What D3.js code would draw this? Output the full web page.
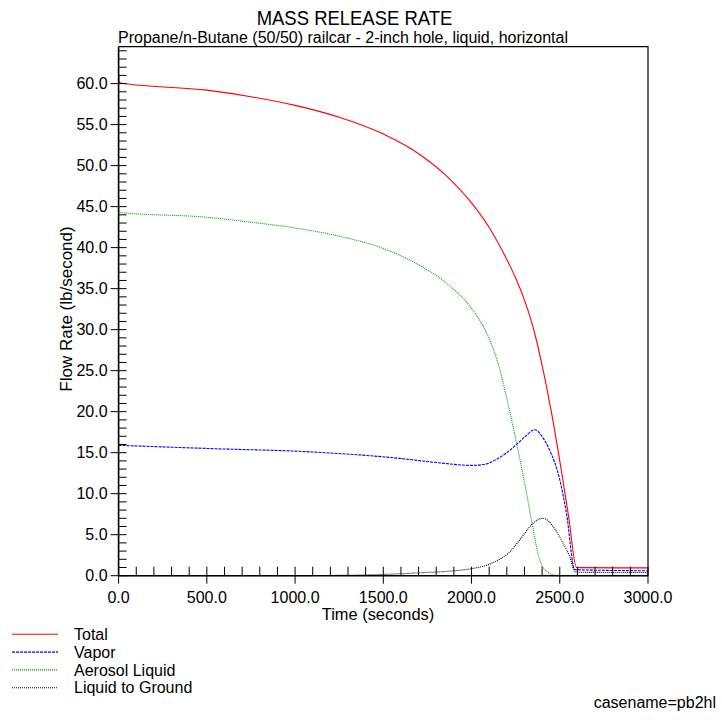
<!DOCTYPE html>
<html><head><meta charset="utf-8">
<script src="https://cdn.jsdelivr.net/npm/d3@7"></script>
<style>body{margin:0;background:#fff}text{font-family:"Liberation Sans",Arial,sans-serif;fill:#000}</style>
</head><body>
<svg id="c" width="722" height="720"></svg>
<script>
const title = "MASS RELEASE RATE";
const subtitle = "Propane/n-Butane (50/50) railcar - 2-inch hole, liquid, horizontal";
const xLabel = "Time (seconds)";
const yLabel = "Flow Rate (lb/second)";
const caseName = "casename=pb2hl";
const xTicks = [0, 500, 1000, 1500, 2000, 2500, 3000];
const yTicks = [0, 5, 10, 15, 20, 25, 30, 35, 40, 45, 50, 55, 60];

const seriesNames = ["Total", "Vapor", "Aerosol Liquid", "Liquid to Ground"];

const totalT = [0, 4, 500, 750, 1000, 1250, 1500, 1700, 1850, 2000, 2100, 2200, 2250, 2300, 2350, 2400, 2450, 2500, 2550, 2595, 2610, 3000];
const totalV = [61.2, 60.1, 59.2, 58.4, 57.35, 55.9, 53.85, 51.45, 48.9, 45.45, 42.45, 38.55, 36.3, 33.6, 30.2, 25.65, 20.25, 14.0, 7.25, 1.0, 0.98, 0.95];

const vaporT = [0, 519, 1085, 1594, 1800, 2000, 2080, 2142, 2200, 2255, 2300, 2359, 2405, 2443, 2500, 2538, 2585, 2600, 3000];
const vaporV = [15.9, 15.5, 15.1, 14.3, 13.8, 13.45, 13.6, 14.2, 15.0, 16.0, 16.9, 17.8, 16.8, 15.3, 11.7, 7.6, 0.75, 0.72, 0.6];

const aerosolT = [0, 4, 500, 750, 1000, 1250, 1500, 1700, 1850, 2000, 2050, 2100, 2150, 2200, 2250, 2300, 2350, 2380, 2400, 2430, 2460, 2500, 3000];
const aerosolV = [44.9, 44.3, 43.7, 43.1, 42.4, 41.4, 39.9, 37.9, 35.8, 32.6, 31.0, 28.9, 25.9, 21.6, 16.7, 11.4, 5.6, 2.4, 1.2, 0.45, 0.12, 0, 0];

const groundT = [0, 1000, 1300, 1500, 1700, 1900, 2000, 2100, 2150, 2217, 2260, 2302, 2349, 2405, 2462, 2500, 2519, 2557, 2585, 2600, 3000];
const groundV = [0, 0.01, 0.05, 0.15, 0.35, 0.6, 0.85, 1.4, 1.9, 2.9, 4.0, 5.2, 6.4, 7.0, 6.0, 4.7, 3.95, 2.3, 0.5, 0.42, 0.38];

const colors = ["#ff0000", "#0000ff", "#00a000", "#000000"];
const dashes = [null, "3,1", "1,1", "1,1"];

const svg = d3.select("#c");
const x = d3.scaleLinear().domain([0, 3000]).range([118.6, 648]);
const y = d3.scaleLinear().domain([0, 64.5]).range([575.7, 46.7]);

// frame
svg.append("path").attr("d", `M${x(0)},${y(64.5)}H${x(3000)}V${y(0)}`)
  .attr("fill", "none").attr("stroke", "#000").attr("stroke-width", 1.2);

// data lines
const data = [[totalT, totalV], [vaporT, vaporV], [aerosolT, aerosolV], [groundT, groundV]];
const line = d3.line().x(d => x(d[0])).y(d => y(d[1])).curve(d3.curveMonotoneX);
const plot = svg.append("g");
data.forEach((s, i) => {
  const pts = s[0].map((t, k) => [t, s[1][k]]);
  plot.append("path").attr("d", line(pts)).attr("fill", "none")
    .attr("stroke", colors[i]).attr("stroke-width", 1.1)
    .attr("stroke-dasharray", dashes[i]);
});

// axes
const ax = svg.append("g").attr("stroke", "#000");
ax.append("line").attr("x1", x(0)).attr("x2", x(0)).attr("y1", y(64.5)).attr("y2", y(0)).attr("stroke-width", 1.6);
ax.append("line").attr("x1", x(0)).attr("x2", x(3000)).attr("y1", y(0)).attr("y2", y(0)).attr("stroke-width", 1.6);
d3.range(1, 65).forEach(v => {
  if (v % 5 === 0) return;
  ax.append("line").attr("x1", x(0)).attr("x2", x(0) + 8).attr("y1", y(v)).attr("y2", y(v));
});
yTicks.forEach(v => {
  ax.append("line").attr("x1", x(0) - 8).attr("x2", x(0) + 8).attr("y1", y(v)).attr("y2", y(v));
});
d3.range(100, 3000, 100).forEach(v => {
  if (v % 500 === 0) return;
  ax.append("line").attr("x1", x(v)).attr("x2", x(v)).attr("y1", y(0) - 9).attr("y2", y(0));
});
xTicks.forEach(v => {
  ax.append("line").attr("x1", x(v)).attr("x2", x(v)).attr("y1", y(0) - 9).attr("y2", y(0) + 8);
});

const f = d3.format(".1f");
yTicks.forEach(v => {
  svg.append("text").attr("x", x(0) - 11).attr("y", y(v)).attr("dy", "0.36em")
    .attr("text-anchor", "end").attr("font-size", 16).text(f(v));
});
xTicks.forEach(v => {
  svg.append("text").attr("x", x(v)).attr("y", 603)
    .attr("text-anchor", "middle").attr("font-size", 16).text(f(v));
});

svg.append("text").attr("x", 378).attr("y", 620).attr("text-anchor", "middle").attr("font-size", 16.4).text(xLabel);
svg.append("text").attr("transform", "translate(72,309) rotate(-90)").attr("text-anchor", "middle").attr("font-size", 17).text(yLabel);

svg.append("text").attr("transform", "translate(354.5,25) scale(0.88,1)").attr("text-anchor", "middle").attr("font-size", 21).text(title);
svg.append("text").attr("x", 343).attr("y", 42.5).attr("text-anchor", "middle").attr("font-size", 16).text(subtitle);

// legend
seriesNames.forEach((n, i) => {
  const yy = 634.3 + i * 17.8;
  svg.append("line").attr("x1", 12).attr("x2", 58).attr("y1", yy).attr("y2", yy)
    .attr("stroke", colors[i]).attr("stroke-width", 1.1).attr("stroke-dasharray", dashes[i]);
  svg.append("text").attr("x", 74).attr("y", yy).attr("dy", "0.36em").attr("font-size", 16).text(n);
});

svg.append("text").attr("x", 716).attr("y", 708).attr("text-anchor", "end").attr("font-size", 16).text(caseName);
</script>
</body></html>
